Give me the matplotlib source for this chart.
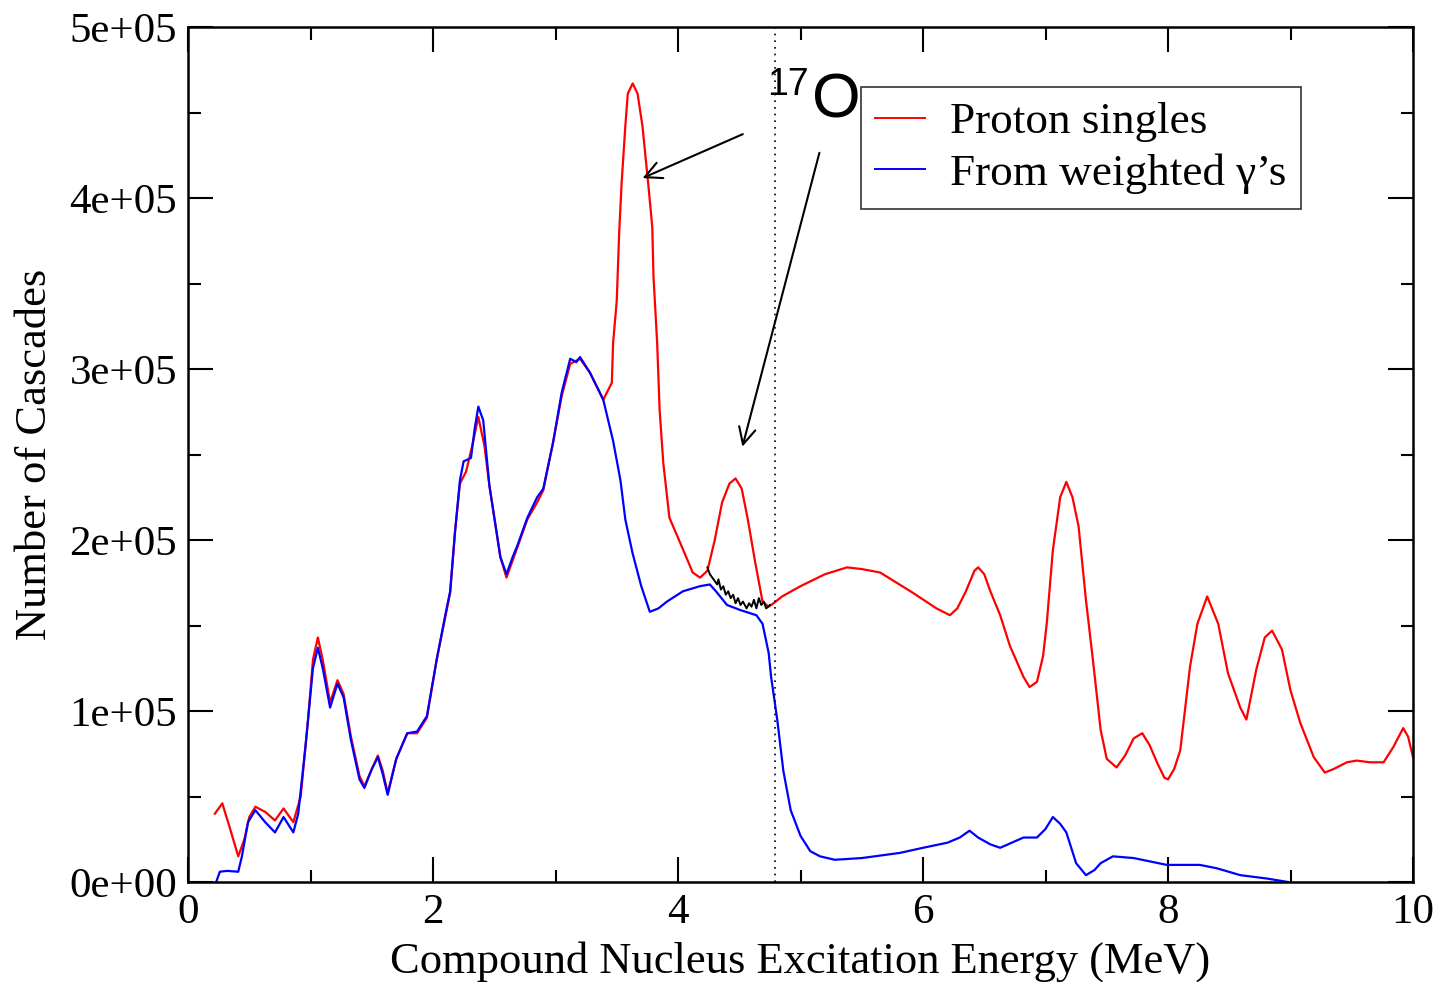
import numpy as np
import matplotlib
matplotlib.use('Agg')
import matplotlib.pyplot as plt
from matplotlib.ticker import MultipleLocator

plt.rcParams['font.family'] = ['Liberation Serif', 'DejaVu Serif']

# proton singles spectrum (x in MeV, counts in units of 1e5)
red_x = [0.22, 0.28, 0.34, 0.41, 0.46, 0.50, 0.55, 0.63, 0.71, 0.78, 0.86, 0.92, 0.98,
         1.02, 1.06, 1.10, 1.16, 1.22, 1.27, 1.33, 1.40, 1.44, 1.50, 1.55, 1.59, 1.63,
         1.70, 1.79, 1.87, 1.95, 2.03, 2.10, 2.14, 2.18, 2.22, 2.27, 2.32, 2.37, 2.42,
         2.46, 2.49, 2.55, 2.60, 2.65, 2.69, 2.77, 2.85, 2.90, 2.98, 3.05, 3.12, 3.20,
         3.28, 3.35, 3.39, 3.46, 3.47, 3.50, 3.52, 3.54, 3.57, 3.59, 3.63, 3.67, 3.71,
         3.76, 3.79, 3.80, 3.83, 3.85, 3.88, 3.93, 4.02, 4.12, 4.18, 4.24, 4.30, 4.36,
         4.42, 4.47, 4.52, 4.57, 4.63, 4.69, 4.74, 4.78, 4.85, 5.00, 5.20, 5.38, 5.50,
         5.65, 5.92, 6.11, 6.22, 6.28, 6.35, 6.42, 6.45, 6.50, 6.55, 6.63, 6.71, 6.82,
         6.87, 6.93, 6.98, 7.01, 7.06, 7.12, 7.17, 7.22, 7.27, 7.33, 7.39, 7.45, 7.50,
         7.58, 7.65, 7.72, 7.79, 7.85, 7.91, 7.97, 8.00, 8.05, 8.10, 8.18, 8.24, 8.32,
         8.41, 8.49, 8.59, 8.64, 8.72, 8.79, 8.85, 8.93, 9.00, 9.08, 9.19, 9.28, 9.35,
         9.46, 9.54, 9.65, 9.76, 9.84, 9.92, 9.96, 10.0]
red_y = [0.40, 0.46, 0.32, 0.15, 0.25, 0.38, 0.44, 0.41, 0.36, 0.43, 0.35, 0.50, 0.95,
         1.30, 1.43, 1.30, 1.05, 1.18, 1.10, 0.85, 0.62, 0.56, 0.66, 0.74, 0.65, 0.52,
         0.72, 0.87, 0.87, 0.96, 1.30, 1.55, 1.69, 2.05, 2.33, 2.40, 2.55, 2.72, 2.55,
         2.32, 2.18, 1.90, 1.78, 1.88, 1.96, 2.12, 2.22, 2.29, 2.57, 2.84, 3.03, 3.06,
         2.98, 2.88, 2.82, 2.92, 3.15, 3.40, 3.80, 4.09, 4.42, 4.61, 4.67, 4.61, 4.42,
         4.06, 3.83, 3.54, 3.15, 2.76, 2.45, 2.13, 1.98, 1.81, 1.78, 1.82, 2.00, 2.22,
         2.33, 2.36, 2.30, 2.12, 1.87, 1.64, 1.61, 1.63, 1.67, 1.73, 1.80, 1.84, 1.83,
         1.81, 1.69, 1.60, 1.56, 1.60, 1.70, 1.82, 1.84, 1.80, 1.70, 1.56, 1.38, 1.20,
         1.14, 1.17, 1.32, 1.51, 1.94, 2.25, 2.34, 2.25, 2.08, 1.65, 1.28, 0.89, 0.72,
         0.67, 0.74, 0.84, 0.87, 0.80, 0.70, 0.61, 0.60, 0.66, 0.77, 1.26, 1.51, 1.67,
         1.51, 1.22, 1.02, 0.95, 1.24, 1.43, 1.47, 1.36, 1.12, 0.93, 0.73, 0.64, 0.66,
         0.70, 0.71, 0.70, 0.70, 0.79, 0.90, 0.85, 0.73]

# spectrum reconstructed from weighted gammas
blue_x = [0.23, 0.26, 0.32, 0.41, 0.44, 0.49, 0.55, 0.63, 0.71, 0.78, 0.86, 0.90, 0.96,
          1.02, 1.06, 1.10, 1.16, 1.22, 1.27, 1.33, 1.40, 1.44, 1.50, 1.55, 1.59, 1.63,
          1.70, 1.79, 1.87, 1.95, 2.03, 2.10, 2.14, 2.18, 2.22, 2.25, 2.31, 2.34, 2.37,
          2.41, 2.46, 2.49, 2.55, 2.60, 2.65, 2.69, 2.77, 2.85, 2.90, 2.98, 3.05, 3.12,
          3.17, 3.20, 3.28, 3.39, 3.47, 3.53, 3.57, 3.63, 3.70, 3.77, 3.84, 3.91, 4.04,
          4.18, 4.26, 4.31, 4.40, 4.51, 4.64, 4.69, 4.74, 4.76, 4.81, 4.86, 4.92, 5.00,
          5.08, 5.16, 5.28, 5.50, 5.81, 6.00, 6.20, 6.30, 6.38, 6.45, 6.55, 6.63, 6.82,
          6.93, 7.00, 7.06, 7.12, 7.17, 7.25, 7.33, 7.40, 7.45, 7.55, 7.72, 7.99, 8.26,
          8.40, 8.59, 8.81, 8.98]
blue_y = [0.00, 0.06, 0.065, 0.06, 0.15, 0.35, 0.42, 0.35, 0.29, 0.38, 0.29, 0.40, 0.80,
          1.25, 1.37, 1.25, 1.02, 1.16, 1.08, 0.83, 0.60, 0.55, 0.66, 0.73, 0.63, 0.51,
          0.72, 0.87, 0.88, 0.97, 1.30, 1.56, 1.70, 2.05, 2.35, 2.46, 2.48, 2.65, 2.78,
          2.70, 2.32, 2.18, 1.90, 1.80, 1.90, 1.97, 2.13, 2.25, 2.30, 2.57, 2.86, 3.06,
          3.04, 3.07, 2.98, 2.82, 2.58, 2.35, 2.12, 1.92, 1.73, 1.58, 1.60, 1.64, 1.70,
          1.73, 1.74, 1.70, 1.62, 1.59, 1.56, 1.51, 1.34, 1.20, 0.95, 0.65, 0.42, 0.27,
          0.18, 0.15, 0.13, 0.14, 0.17, 0.20, 0.23, 0.26, 0.30, 0.26, 0.22, 0.20, 0.26,
          0.26, 0.31, 0.38, 0.34, 0.29, 0.11, 0.04, 0.07, 0.11, 0.15, 0.14, 0.10, 0.10,
          0.08, 0.04, 0.02, 0.00]

# fitted background under the 17O peak
bg_x = [4.24, 4.26, 4.28, 4.30, 4.32, 4.33, 4.35, 4.37, 4.39, 4.41, 4.43, 4.45, 4.47,
        4.49, 4.51, 4.53, 4.56, 4.58, 4.60, 4.62, 4.64, 4.66, 4.68, 4.70, 4.72, 4.75]
bg_y = [1.84, 1.80, 1.78, 1.76, 1.74, 1.77, 1.71, 1.73, 1.68, 1.70, 1.66, 1.68, 1.63,
        1.66, 1.62, 1.64, 1.60, 1.63, 1.61, 1.65, 1.60, 1.66, 1.62, 1.64, 1.60, 1.62]

cut_energy = 4.79

fig = plt.figure(figsize=(14.44, 9.82), dpi=100)
ax = fig.add_axes([188/1444, 1 - 882/982, 1225/1444, 855/982])

ax.plot(red_x, np.array(red_y) * 1e5, color='#ff0000', lw=1.6, label='Proton singles')
ax.plot(blue_x, np.array(blue_y) * 1e5, color='#0000ff', lw=1.6, label="From weighted \u03b3\u2019s")
ax.plot(bg_x, np.array(bg_y) * 1e5, color='black', lw=1.4)
ax.axvline(cut_energy, color='black', lw=1.2, ls=(0, (1, 3)))

ax.set_xlim(0, 10)
ax.set_ylim(0, 5e5)
ax.xaxis.set_major_locator(MultipleLocator(2))
ax.xaxis.set_minor_locator(MultipleLocator(1))
ax.yaxis.set_major_locator(MultipleLocator(1e5))
ax.yaxis.set_minor_locator(MultipleLocator(5e4))
ax.set_yticks(np.arange(0, 5.01e5, 1e5))
ax.set_yticklabels(['0e+00', '1e+05', '2e+05', '3e+05', '4e+05', '5e+05'])
ax.tick_params(which='both', direction='in', top=True, right=True, width=1.5,
               labelsize=31)
ax.tick_params(which='major', length=18, pad=8)
ax.tick_params(which='minor', length=9)
for s in ax.spines.values():
    s.set_linewidth(1.8)

ax.set_xlabel('Compound Nucleus Excitation Energy (MeV)', fontsize=32, labelpad=7)
ax.set_ylabel('Number of Cascades', fontsize=32, labelpad=10)

leg = ax.legend(loc='upper left', bbox_to_anchor=(0.549, 0.930), fontsize=32.5,
                frameon=True, fancybox=False, edgecolor='black', handlelength=1.1,
                handletextpad=0.55, labelspacing=0.25, borderpad=0.33, borderaxespad=0)
leg.get_frame().set_linewidth(1.2)
for h in leg.get_lines():
    h.set_linewidth(1.4)

# isotope label with arrows to its peaks
ax.text(4.73, 4.60e5, '17', fontsize=27, family='Liberation Sans', ha='left', va='baseline')
ax.text(5.09, 4.47e5, 'O', fontsize=45, family='Liberation Sans', ha='left', va='baseline')
arrow = dict(arrowstyle='->', color='black', lw=1.5, mutation_scale=30)
ax.annotate('', xy=(3.69, 4.11e5), xytext=(4.55, 4.38e5), arrowprops=arrow)
ax.annotate('', xy=(4.52, 2.53e5), xytext=(5.16, 4.28e5), arrowprops=arrow)

fig.savefig('out.png', dpi=100)
